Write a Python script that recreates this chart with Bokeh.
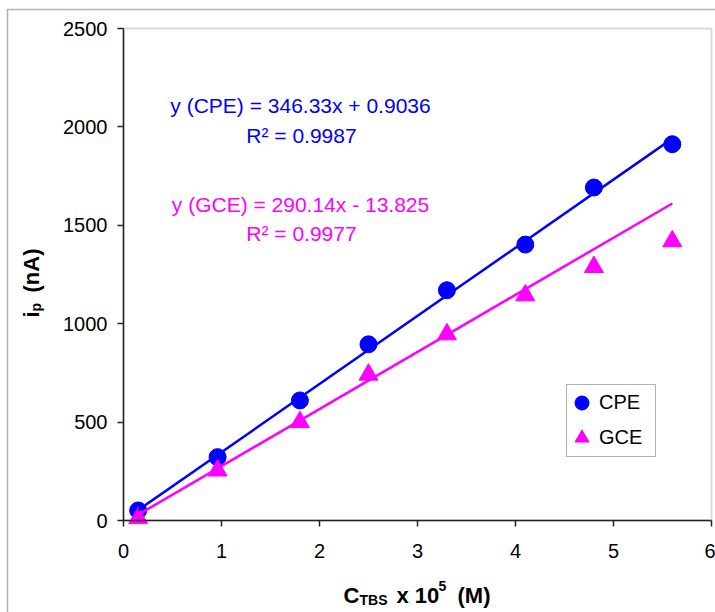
import math
from bokeh.plotting import figure
from bokeh.models import Range1d, Label, BoxAnnotation, FixedTicker
from bokeh.embed import file_html
from bokeh.resources import INLINE

# ---- data ----
conc = [0.15, 0.96, 1.8, 2.5, 3.3, 4.1, 4.8, 5.6]          # C_TBS x 10^5 (M)
ip_cpe = [51, 322, 610, 895, 1170, 1402, 1692, 1912]       # nA
ip_gce = [12, 254, 500, 741, 946, 1144, 1288, 1419]        # nA
fit_cpe = [346.33, 0.9036]     # slope, intercept
fit_gce = [290.14, -13.825]
x_ticks = [0, 1, 2, 3, 4, 5, 6]
y_ticks = [0, 500, 1000, 1500, 2000, 2500]
eq_cpe = "y (CPE) = 346.33x + 0.9036"
r2_cpe = "R² = 0.9987"
eq_gce = "y (GCE) = 290.14x - 13.825"
r2_gce = "R² = 0.9977"
series_names = ["CPE", "GCE"]

BLUE = "#0000FF"
MAG = "#FF00FF"
FONT = "Liberation Sans"

W, H = 715, 612
# pixel geometry of the plot area inside the canvas
PL, PR, PT, PB = 123, 711, 28, 520
XMIN, XMAX, YMIN, YMAX = 0, 6, 0, 2500
sx = (PR - PL) / (XMAX - XMIN)
sy = (PB - PT) / (YMAX - YMIN)
OFF = 7  # baseline correction of the svg text renderer

def dx(px):
    return XMIN + (px - PL) / sx

def dy(py):
    return YMIN + (PB - py) / sy

# the frame covers the whole canvas; axes sit at fixed locations inside it
p = figure(width=W, height=H, x_range=Range1d(dx(0), dx(W)), y_range=Range1d(dy(H), dy(0)),
           output_backend="svg", toolbar_location=None,
           min_border_left=0, min_border_right=0, min_border_top=0, min_border_bottom=0)
p.title.visible = False
p.background_fill_color = "white"
p.border_fill_color = "white"
p.outline_line_color = None
p.xgrid.visible = False
p.ygrid.visible = False

# plot-area border (grey, top/right visible)
p.add_layout(BoxAnnotation(left=XMIN, right=XMAX, bottom=YMIN, top=YMAX,
                           fill_alpha=0, line_color="#888888", line_width=2, level="underlay"))

for ax, ticks in ((p.xaxis, x_ticks), (p.yaxis, y_ticks)):
    ax.ticker = FixedTicker(ticks=ticks)
    ax.major_label_text_font = FONT
    ax.major_label_text_font_size = "20px"
    ax.major_label_text_color = "black"
    ax.axis_line_color = "#222222"
    ax.axis_line_width = 1.5
    ax.major_tick_line_color = "#222222"
    ax.major_tick_line_width = 1.5
    ax.major_tick_out = 6
    ax.major_tick_in = 0
    ax.minor_tick_line_color = None
p.xaxis.fixed_location = YMIN
p.yaxis.fixed_location = XMIN
p.xaxis.bounds = (XMIN, XMAX)
p.yaxis.bounds = (YMIN, YMAX)
p.xaxis.major_label_standoff = 17
p.yaxis.major_label_standoff = 10

# markers
r1 = p.scatter(conc, ip_cpe, marker="circle", size=17, fill_color=BLUE, line_color=BLUE,
               legend_label=series_names[0])
r2 = p.scatter(conc, ip_gce, marker="triangle", size=19, fill_color=MAG, line_color=MAG,
               legend_label=series_names[1])

# trend lines
xf = [min(conc), max(conc)]
p.line(xf, [fit_cpe[0] * x + fit_cpe[1] for x in xf], line_color=BLUE, line_width=2.5)
p.line(xf, [fit_gce[0] * x + fit_gce[1] for x in xf], line_color=MAG, line_width=2.5)

# equations
for txt, px, py, col in ((eq_cpe, 300, 112, BLUE), (r2_cpe, 301, 142, BLUE),
                         (eq_gce, 300, 211, MAG), (r2_gce, 301, 240, MAG)):
    p.add_layout(Label(x=dx(px), y=dy(py - OFF), text=txt, text_align="center",
                       text_baseline="alphabetic", text_font=FONT,
                       text_font_size="21px", text_color=col))

# x axis title: C_TBS x 10^5  (M)
for txt, px, py, fs in (("C", 343, 602, "22px"), ("TBS", 359, 606, "14px"),
                        ("x 10", 396, 602, "22px"), ("5", 438, 592, "14px"),
                        ("(M)", 457, 602, "22px")):
    p.add_layout(Label(x=dx(px), y=dy(py - OFF), text=txt, text_align="left",
                       text_baseline="alphabetic", text_font=FONT,
                       text_font_style="bold", text_font_size=fs, text_color="black"))

# y axis title: i_p (nA)  (rotated)
for txt, px, py, fs in (("i", 38, 317, "22px"), ("p", 42, 311, "14px"),
                        ("(nA)", 38, 292, "22px")):
    p.add_layout(Label(x=dx(px - OFF), y=dy(py), text=txt, text_align="left", angle=math.pi / 2,
                       text_baseline="alphabetic", text_font=FONT,
                       text_font_style="bold", text_font_size=fs, text_color="black"))

# outer chart border
p.add_layout(BoxAnnotation(left=dx(7), right=dx(W + 20), top=dy(9), bottom=dy(H + 20),
                           fill_alpha=0, line_color="black", line_width=1.5))

# legend box
p.add_layout(BoxAnnotation(left=dx(566), right=dx(655), top=dy(384), bottom=dy(456),
                           fill_color="white", fill_alpha=1, line_color="black", line_width=1,
                           level="overlay"))

# legend
lg = p.legend[0]
lg.padding = 0
lg.spacing = 0
lg.glyph_width = 35
lg.glyph_height = 35
lg.label_standoff = 0
lg.location = (564, H - 455)
lg.label_width = 50
lg.label_height = 20
lg.label_text_font = FONT
lg.label_text_font_size = "20px"
lg.label_text_color = "black"
lg.border_line_color = None
lg.background_fill_alpha = 0
lg.margin = 0

open("out.html", "w").write(file_html(p, INLINE))
